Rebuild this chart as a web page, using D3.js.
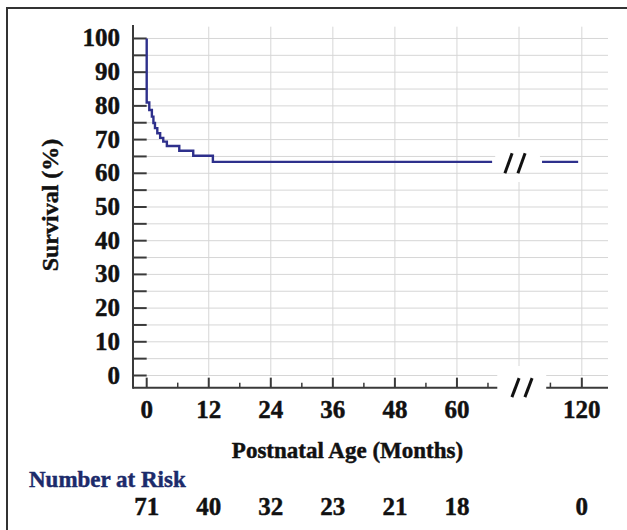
<!DOCTYPE html>
<html><head><meta charset="utf-8">
<script src="https://cdn.jsdelivr.net/npm/d3@7"></script>
<style>
body{margin:0;background:#fff}
text{font-family:"Liberation Serif","Times New Roman",serif;font-weight:bold;fill:#111;stroke:#111;stroke-width:0.45px}
</style>
</head><body>
<svg id="c" width="627" height="530"></svg>
<script>
// ---- data ----
const kmTimes    = [0, 0, 0.5, 1.0, 1.3, 1.6, 2.05, 2.6, 3.2, 3.9, 6.3, 9.0, 12.8, 66.8];
const kmSurvival = [100, 81.0, 78.8, 76.8, 74.9, 73.4, 71.9, 70.5, 69.4, 68.1, 66.7, 65.2, 63.4, 63.4];
const tailTimes    = [112.4, 119.3];
const tailSurvival = [63.4, 63.4];
const xTickValues  = [0, 12, 24, 36, 48, 60, 120];
const xTickLabels  = ["0", "12", "24", "36", "48", "60", "120"];
const xMinorValues = [6, 18, 30, 42, 54, 66, 114];
const xGridValues  = [12, 24, 36, 48, 60, 120];
const yTickValues  = [0, 10, 20, 30, 40, 50, 60, 70, 80, 90, 100];
const yMinorValues = [5, 15, 25, 35, 45, 55, 65, 75, 85, 95];
const riskTimes  = [0, 12, 24, 36, 48, 60, 120];
const riskCounts = [71, 40, 32, 23, 21, 18, 0];
const breakMonth = 72, resumeMonth = 108;

const svg = d3.select("#c");

// broken (polylinear) x scale: 0–72 then 108–125
const x = d3.scaleLinear().domain([0, breakMonth, resumeMonth, 125]).range([146.7, 519, 519, 608]);
const y = d3.scaleLinear().domain([0, 104]).range([375.5, 25]);

const axisX = x(-2.65);   // y-axis line position
const axisY = y(-3.6);    // x-axis line position
const axisColor = "#3a3a3a", gridColor = "#d6d6d6", curveColor = "#2e308c";

// outer frame (cut on right/bottom)
svg.append("path").attr("d", "M7,530V8H627").attr("fill", "none").attr("stroke", "#333").attr("stroke-width", 2);

// horizontal gridlines every 5
const g = svg.append("g");
g.selectAll("line.h").data(yTickValues.concat(yMinorValues)).join("line")
  .attr("x1", x(0)).attr("x2", x(125)).attr("y1", d => y(d)).attr("y2", d => y(d))
  .attr("stroke", gridColor).attr("stroke-width", 1);
// vertical gridlines
g.selectAll("line.v").data(xGridValues).join("line")
  .attr("x1", d => x(d)).attr("x2", d => x(d)).attr("y1", y(0)).attr("y2", y(103.5))
  .attr("stroke", gridColor).attr("stroke-width", 1);
// gridline at the break, interrupted
[[103.5, 70.7], [57.4, 2.8]].forEach(([a, b]) => {
  g.append("line").attr("x1", x(breakMonth)).attr("x2", x(breakMonth)).attr("y1", y(a)).attr("y2", y(b))
    .attr("stroke", gridColor).attr("stroke-width", 1);
});
// white masks behind the break marks
svg.append("rect").attr("x", x(67.4)).attr("y", y(66.3)).attr("width", x(112) - x(67.4)).attr("height", y(61.5) - y(66.3)).attr("fill", "#fff");
svg.append("rect").attr("x", x(67.8)).attr("y", y(2.8)).attr("width", x(113.2) - x(67.8)).attr("height", axisY - y(2.8) + 3).attr("fill", "#fff");

// y axis
svg.append("line").attr("x1", axisX).attr("x2", axisX).attr("y1", y(104)).attr("y2", axisY + 1)
  .attr("stroke", axisColor).attr("stroke-width", 2);
svg.selectAll("line.yt").data(yTickValues.concat(yMinorValues)).join("line")
  .attr("x1", axisX).attr("x2", x(0)).attr("y1", d => y(d)).attr("y2", d => y(d))
  .attr("stroke", axisColor).attr("stroke-width", 2);
svg.selectAll("text.yl").data(yTickValues).join("text")
  .attr("x", 120).attr("y", d => y(d) + 8).attr("text-anchor", "end")
  .style("font-size", "25px").text(d => d);

// x axis (two pieces)
[[-2.65, 67.8], [113.2, 125]].forEach(([a, b]) => {
  svg.append("line").attr("x1", x(a)).attr("x2", x(b)).attr("y1", axisY).attr("y2", axisY)
    .attr("stroke", axisColor).attr("stroke-width", 2);
});
svg.selectAll("line.xt").data(xTickValues).join("line")
  .attr("x1", d => x(d)).attr("x2", d => x(d)).attr("y1", axisY).attr("y2", axisY - 10)
  .attr("stroke", axisColor).attr("stroke-width", 2);
svg.selectAll("line.xm").data(xMinorValues).join("line")
  .attr("x1", d => x(d)).attr("x2", d => x(d)).attr("y1", axisY).attr("y2", axisY - 5)
  .attr("stroke", axisColor).attr("stroke-width", 1.5);
svg.selectAll("text.xl").data(xTickValues).join("text")
  .attr("x", d => x(d)).attr("y", 418).attr("text-anchor", "middle")
  .style("font-size", "25px").text((d, i) => xTickLabels[i]);

// survival curve
const line = d3.line().x(d => x(d[0])).y(d => y(d[1])).curve(d3.curveStepAfter);
svg.append("path").datum(kmTimes.map((t, i) => [t, kmSurvival[i]]))
  .attr("d", line).attr("fill", "none").attr("stroke", curveColor).attr("stroke-width", 2.4);
svg.append("path").datum(tailTimes.map((t, i) => [t, tailSurvival[i]]))
  .attr("d", line).attr("fill", "none").attr("stroke", curveColor).attr("stroke-width", 2.4);

// break marks "//"
function slashes(cx, cy, h) {
  [-6.5, 6.5].forEach(off => {
    svg.append("line").attr("x1", cx + off + 3.6).attr("y1", cy - h / 2)
      .attr("x2", cx + off - 3.6).attr("y2", cy + h / 2)
      .attr("stroke", "#111").attr("stroke-width", 3);
  });
}
slashes(x(breakMonth) - 4, y(63.4) + 1.5, 20);
slashes(x(breakMonth) + 3, axisY, 19);

// titles
svg.append("text").attr("transform", "translate(58,205) rotate(-90)").attr("text-anchor", "middle")
  .style("font-size", "24px").text("Survival (%)");
svg.append("text").attr("x", 347.5).attr("y", 458).attr("text-anchor", "middle")
  .style("font-size", "23px").text("Postnatal Age (Months)");
svg.append("text").attr("x", 29).attr("y", 487).style("font-size", "23px")
  .style("fill", "#1c2b6b").style("stroke", "#1c2b6b")
  .text("Number at Risk");
svg.selectAll("text.risk").data(riskTimes).join("text")
  .attr("x", d => x(d)).attr("y", 515).attr("text-anchor", "middle")
  .style("font-size", "25px").text((d, i) => riskCounts[i]);
</script>
</body></html>
